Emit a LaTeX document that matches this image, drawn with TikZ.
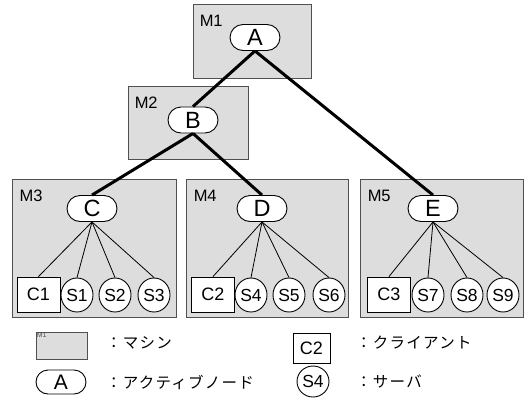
\documentclass[tikz,border=0pt]{standalone}
\usepackage{fontspec}
\setmainfont{Liberation Sans}
\newfontfamily\jpfont[LetterSpace=8]{Noto Sans CJK JP}
\usetikzlibrary{positioning,shapes.misc,shapes.geometric}
\definecolor{boxgray}{RGB}{221,221,221}
\definecolor{edgegray}{RGB}{80,80,80}
\begin{document}
\begin{tikzpicture}[
      x=1pt, y=-1pt,
      machine/.style={draw=edgegray,fill=boxgray,line width=0.9pt,inner sep=0},
      mlabel/.style={anchor=base west,inner sep=0,font=\fontsize{16.5}{18}\selectfont},
      active/.style={draw,fill=white,rounded rectangle,line width=0.9pt,minimum width=50,minimum height=26,inner sep=0,font=\fontsize{23.5}{25}\selectfont},
      client/.style={draw,fill=white,rectangle,line width=0.9pt,minimum width=43,minimum height=35,inner sep=0,font=\fontsize{18}{20}\selectfont},
      server/.style={draw,fill=white,ellipse,line width=0.9pt,minimum width=32,minimum height=34,inner sep=0,font=\fontsize{17.5}{19}\selectfont},
      thick link/.style={line width=3pt},
      thin link/.style={line width=0.8pt},
      legend/.style={anchor=west,inner sep=0,font=\jpfont\fontsize{15.5}{17}\selectfont}
    ]
        \useasboundingbox (0,0) rectangle (525,397);
        % machines
        \node[machine, minimum width=118, minimum height=74] (m1) at (252,41) {};
        \node[machine, minimum width=120, minimum height=73] (m2) at (188,122.5) {};
        \node[machine, minimum width=164, minimum height=138] (m3) at (94,248) {};
        \node[machine, minimum width=162, minimum height=138] (m4) at (267,248) {};
        \node[machine, minimum width=163, minimum height=138] (m5) at (441.5,248) {};
        \node[mlabel] (m1l) at ([shift={(7,23)}]m1.north west) {M1};
        \node[mlabel] (m2l) at ([shift={(7,23)}]m2.north west) {M2};
        \node[mlabel] (m3l) at ([shift={(8,23)}]m3.north west) {M3};
        \node[mlabel] (m4l) at ([shift={(8,23)}]m4.north west) {M4};
        \node[mlabel] (m5l) at ([shift={(8,23)}]m5.north west) {M5};
        % active nodes
        \node[active] (a) at (255,37.5) {A};
        \node[active] (b) at (193,120) {B};
        \node[active] (c) at (92,208.5) {C};
        \node[active] (d) at (262,208.5) {D};
        \node[active] (e) at (433,208.5) {E};
        % clients and servers
        \node[client] (c1) at (38.5,294.5) {C1};
        \node[server] (s1) at (77,295) {S1};
        \node[server] (s2) at (115,295) {S2};
        \node[server] (s3) at (154,295) {S3};
        \node[client] (c2) at (213,294.5) {C2};
        \node[server] (s4) at (251,295) {S4};
        \node[server] (s5) at (289,295) {S5};
        \node[server] (s6) at (329,295) {S6};
        \node[client] (c3) at (389,294.5) {C3};
        \node[server] (s7) at (428,295) {S7};
        \node[server] (s8) at (467,295) {S8};
        \node[server] (s9) at (503,295) {S9};
        \path (a.south) edge[thick link] (b.north)
              (a.south) edge[thick link] (e.north)
              (b.south) edge[thick link] (c.north)
              (b.south) edge[thick link] (d.north);
        \path (c.south) edge[thin link] (c1.north)
              (c.south) edge[thin link] (s1.north)
              (c.south) edge[thin link] (s2.north)
              (c.south) edge[thin link] (s3.north)
              (d.south) edge[thin link] (c2.north)
              (d.south) edge[thin link] (s4.north)
              (d.south) edge[thin link] (s5.north)
              (d.south) edge[thin link] (s6.north)
              (e.south) edge[thin link] (c3.north)
              (e.south) edge[thin link] (s7.north)
              (e.south) edge[thin link] (s8.north)
              (e.south) edge[thin link] (s9.north);
        % legend
        \node[machine, minimum width=51, minimum height=27] (lm) at (61.5,345.5) {};
        \node[anchor=north west,inner sep=0,text=edgegray,font=\fontsize{7}{8}\selectfont] (lml) at ([shift={(1,1)}]lm.north west) {M1};
        \node[active, minimum height=24] (la) at (61,382) {\fontsize{21}{23}\selectfont A};
        \node[client, minimum width=37, minimum height=30] (lc) at (311.5,348) {C2};
        \node[server, minimum height=31] (ls) at (313,381.5) {S4};
        \node[legend] (tm) at (106,343) {：マシン};
        \node[legend] (ta) at (106,382) {：アクティブノード};
        \node[legend] (tc) at (356,343) {：クライアント};
        \node[legend] (ts) at (356,382) {：サーバ};
    \end{tikzpicture}
\end{document}
